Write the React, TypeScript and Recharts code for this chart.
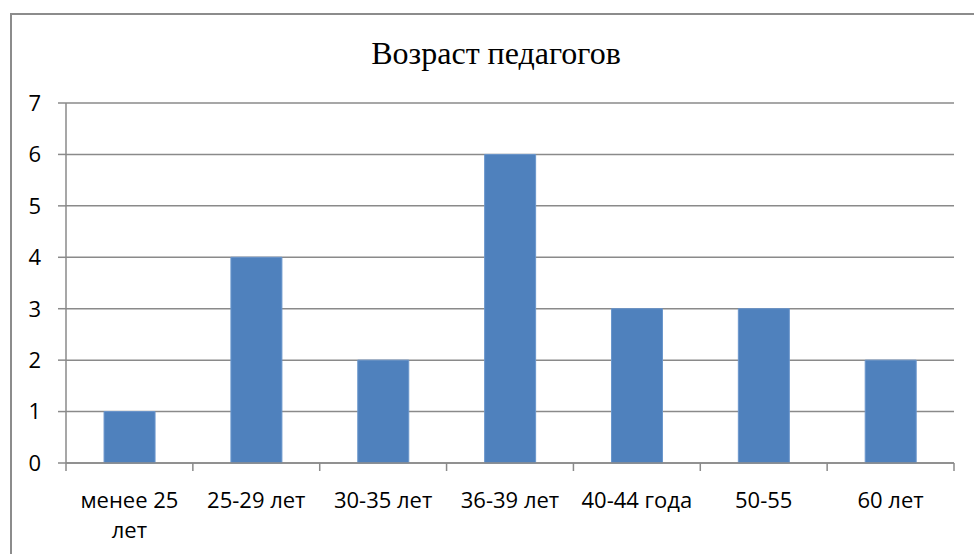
import React from "react";
import { BarChart, Bar, XAxis, YAxis, CartesianGrid } from "recharts";

const categories = ["менее 25 лет", "25-29 лет", "30-35 лет", "36-39 лет", "40-44 года", "50-55", "60 лет"];
const teachers = [1, 4, 2, 6, 3, 3, 2];
const yTicks = [0, 1, 2, 3, 4, 5, 6, 7];

const data = categories.map((c, i) => ({ age: c, count: teachers[i] }));

const SANS = "'Open Sans', 'Noto Sans', sans-serif";
const GRID = "#8a8a8a";

function wrap(label: string, max: number) {
  const lines: string[] = [];
  let cur = "";
  for (const w of label.split(" ")) {
    const next = cur ? cur + " " + w : w;
    if (next.length > max && cur) {
      lines.push(cur);
      cur = w;
    } else cur = next;
  }
  if (cur) lines.push(cur);
  return lines;
}

// category tick: boundary tick marks + wrapped label
function AgeTick(props: any) {
  const { x, y, payload, index, visibleTicksCount } = props;
  const half = payload.offset ?? 63.5;
  const lines = wrap(String(payload.value), 10);
  const last = index === (visibleTicksCount ?? categories.length) - 1;
  return (
    <g>
      <line x1={x - half} x2={x - half} y1={y - 8} y2={y} stroke={GRID} strokeWidth={1.5} />
      {last && <line x1={x + half} x2={x + half} y1={y - 8} y2={y} stroke={GRID} strokeWidth={1.5} />}
      <text x={x} y={y + 37} textAnchor="middle" fill="#000" fontSize={22} fontFamily={SANS}>
        {lines.map((l, i) => (
          <tspan key={i} x={x} dy={i === 0 ? 0 : 30}>
            {l}
          </tspan>
        ))}
      </text>
    </g>
  );
}

export default function App() {
  return (
    <div style={{ position: "fixed", left: 0, top: 0, width: 974, height: 554, overflow: "hidden", background: "#fff" }}>
      <div
        style={{
          position: "absolute",
          left: 10,
          top: 13,
          width: 1000,
          height: 600,
          border: "2px solid #8c8c8c",
        }}
      />
      <div
        style={{
          position: "absolute",
          left: 296,
          width: 400,
          top: 33,
          textAlign: "center",
          fontFamily: "'Liberation Serif', 'Times New Roman', serif",
          fontSize: 32,
          color: "#000",
          lineHeight: "40px",
        }}
      >
        Возраст педагогов
      </div>
      <div style={{ position: "absolute", left: 0, top: 0 }}>
        <BarChart width={974} height={554} data={data} margin={{ top: 103, right: 20, bottom: 31, left: 0 }} barCategoryGap="30%">
          <CartesianGrid vertical={false} stroke={GRID} strokeWidth={1.5} />
          <XAxis
            dataKey="age"
            height={60}
            interval={0}
            tickLine={false}
            axisLine={{ stroke: GRID, strokeWidth: 1.5 }}
            tick={<AgeTick />}
          />
          <YAxis
            width={66}
            domain={[0, 7]}
            ticks={yTicks}
            interval={0}
            tickSize={8}
            tickMargin={17}
            axisLine={{ stroke: GRID, strokeWidth: 1.5 }}
            tickLine={{ stroke: GRID, strokeWidth: 1.5 }}
            tick={{ fill: "#000", fontSize: 22, fontFamily: SANS }}
          />
          <Bar dataKey="count" fill="#4f81bd" stroke="#6a96cc" strokeWidth={1} isAnimationActive={false} />
        </BarChart>
      </div>
    </div>
  );
}
